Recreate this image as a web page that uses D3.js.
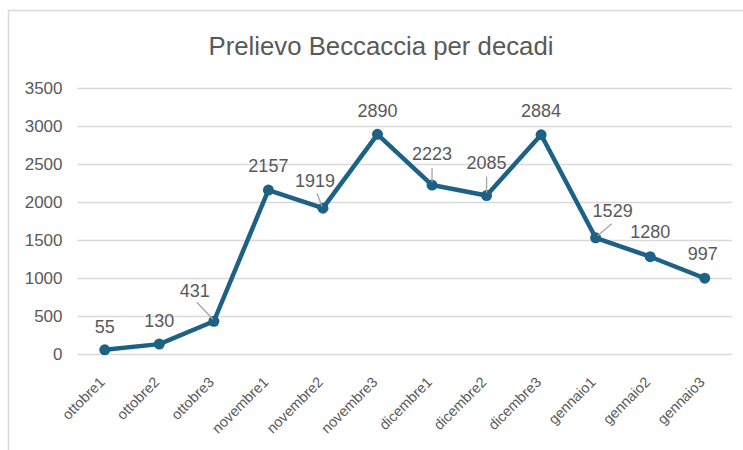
<!DOCTYPE html>
<html><head><meta charset="utf-8">
<script src="https://cdn.jsdelivr.net/npm/d3@7"></script>
<style>body{margin:0;background:#fff}svg{display:block}</style>
</head><body>
<svg id="c" width="743" height="450"></svg>
<script>
const categories = ["ottobre1","ottobre2","ottobre3","novembre1","novembre2","novembre3","dicembre1","dicembre2","dicembre3","gennaio1","gennaio2","gennaio3"];
const values = [55,130,431,2157,1919,2890,2223,2085,2884,1529,1280,997];
const yTicks = [0,500,1000,1500,2000,2500,3000,3500];
const title = "Prelievo Beccaccia per decadi";
// label placement relative to point (dx, dy of label centre), leader flag
const labelOffsets = [[0,-23],[0,-23],[-19,-31],[0,-24],[-8,-27],[0,-24],[0,-31],[0,-33],[0,-24],[17,-27],[0,-25],[-2,-25]];
const leaders = [false,false,true,false,true,false,true,true,false,true,false,false];

const svg = d3.select("#c");
const grey = "#595959", blue = "#1d6285";
const x = d3.scaleBand().domain(categories).range([77.5, 732]).padding(0);
const cx = d => x(d) + x.bandwidth()/2;
const y = d3.scaleLinear().domain([0,3500]).range([354, 88]);

// border
svg.append("path").attr("d","M8.5,450 V10.5 H743").attr("fill","none").attr("stroke","#d9d9d9").attr("stroke-width",1.5);

const t = svg.append("text").attr("x",381).attr("y",55).attr("text-anchor","middle")
  .attr("font-family","'Liberation Sans',Arial,sans-serif")
  .attr("font-size",24).attr("fill",grey).text(title);
const tw = t.node().getComputedTextLength();
t.attr("font-size", 24*345/tw);

// grid + y axis
const yAxis = d3.axisLeft(y).tickValues(yTicks).tickFormat(d3.format("d")).tickSize(-(732-77.5)).tickPadding(15);
const ga = svg.append("g").attr("transform","translate(77.5,0)").call(yAxis);
ga.select(".domain").remove();
ga.selectAll(".tick line").attr("stroke","#d9d9d9").attr("stroke-width",1.5);
ga.selectAll(".tick text").attr("fill",grey).attr("font-size",17).attr("font-family","'Liberation Sans',Arial,sans-serif");

// x axis labels
const xAxis = d3.axisBottom(x).tickSize(0).tickPadding(0);
const gx = svg.append("g").attr("transform","translate(0,354)").call(xAxis);
gx.select(".domain").remove();
gx.selectAll(".tick text").attr("fill",grey).attr("font-size",14.5)
  .attr("font-family","'Liberation Sans',Arial,sans-serif")
  .attr("text-anchor","end").attr("dy",null).attr("y",null)
  .attr("transform","translate(1,29) rotate(-45)");

// line
const line = d3.line().x((d,i)=>cx(categories[i])).y(d=>y(d));
svg.append("path").datum(values).attr("d",line).attr("fill","none").attr("stroke",blue).attr("stroke-width",4.5).attr("stroke-linejoin","round");
svg.selectAll("circle.m").data(values).join("circle").attr("class","m")
  .attr("cx",(d,i)=>cx(categories[i])).attr("cy",d=>y(d)).attr("r",5.5).attr("fill",blue);

// leader lines
values.forEach((v,i)=>{
  if(!leaders[i]) return;
  const px = cx(categories[i]), py = y(v);
  const lx = px + labelOffsets[i][0], ly = py + labelOffsets[i][1];
  const [dx,dy] = labelOffsets[i];
  let x1,y1,x2,y2;
  if (dx===0){ x1=px; y1=ly+14; x2=px; y2=py-3; }
  else if (dx<0){ x1=lx+2; y1=ly+12; x2=px-1; y2=py-2; }
  else { x1=lx-1; y1=ly+13; x2=px+2; y2=py-2; }
  svg.append("line").attr("x1",x1).attr("y1",y1).attr("x2",x2).attr("y2",y2)
    .attr("stroke","#a6a6a6").attr("stroke-width",1.3);
});

// data labels
svg.selectAll("text.v").data(values).join("text").attr("class","v")
  .attr("x",(d,i)=>cx(categories[i])+labelOffsets[i][0])
  .attr("y",(d,i)=>y(d)+labelOffsets[i][1])
  .attr("dy","0.35em").attr("text-anchor","middle")
  .attr("font-family","'Liberation Sans',Arial,sans-serif").attr("font-size",18).attr("fill",grey)
  .text(d=>d);
</script>
</body></html>
